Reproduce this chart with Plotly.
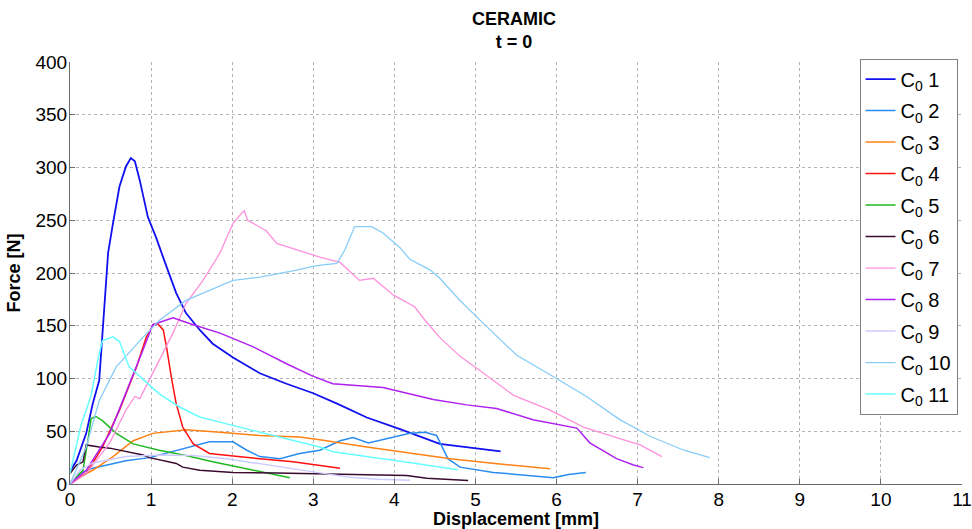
import plotly.graph_objects as go

# ---- data (displacement [mm], force [N]) ----
x1 = [0.0, 0.08, 0.2, 0.28, 0.36, 0.405, 0.47, 0.53, 0.61, 0.69, 0.75, 0.80, 0.86, 0.96, 1.06, 1.19, 1.31, 1.43, 1.60, 1.76, 2.01, 2.34, 2.67, 3.0, 3.3, 3.66, 4.07, 4.56, 4.97, 5.31]
y1 = [12, 22, 48, 76, 98, 149, 219, 247, 282, 301, 309, 306, 288, 253, 234, 206, 181, 162, 146, 133, 120, 105, 95, 86, 76, 63, 52, 38, 34, 31]

x2 = [0.0, 0.12, 0.28, 0.69, 0.98, 1.39, 1.72, 2.01, 2.18, 2.34, 2.59, 2.83, 3.08, 3.33, 3.49, 3.68, 3.90, 4.19, 4.38, 4.52, 4.66, 4.81, 5.22, 5.63, 5.96, 6.15, 6.36]
y2 = [1, 10, 15, 22, 25, 33, 40, 40, 32, 26, 24, 29, 32, 41, 44, 39, 43, 48, 49, 46, 24, 16, 11, 8, 6, 9, 11]

x3 = [0.0, 0.28, 0.53, 0.78, 1.02, 1.43, 1.85, 2.34, 2.83, 3.08, 3.66, 4.2, 4.69, 5.30, 5.92]
y3 = [2, 13, 26, 41, 48, 51.5, 49, 46, 44.5, 42, 35, 29, 24, 19, 14.5]

x4 = [0.0, 0.2, 0.40, 0.61, 0.82, 0.94, 1.02, 1.08, 1.15, 1.19, 1.25, 1.31, 1.39, 1.52, 1.72, 2.13, 2.75, 3.05, 3.33]
y4 = [0, 10, 35, 70, 111, 139, 150, 152, 146, 130, 101, 76, 54, 38, 29, 25.5, 21, 18, 15]

x5 = [0.0, 0.16, 0.22, 0.26, 0.32, 0.40, 0.57, 0.78, 1.10, 1.43, 1.76, 2.26, 2.71]
y5 = [0, 13, 41, 62, 64, 60, 48, 38, 32, 27, 21, 13, 6]

x6 = [0.0, 0.08, 0.16, 0.20, 0.36, 0.49, 0.90, 0.98, 1.31, 1.39, 1.60, 2.01, 2.55, 3.0, 3.5, 4.15, 4.40, 4.91]
y6 = [10, 18, 21, 37, 35, 34, 27.5, 25, 19.5, 16, 13, 11, 10.5, 10, 9, 8, 5.5, 3.2]

x7 = [0.0, 0.2, 0.49, 0.69, 0.80, 0.86, 1.06, 1.27, 1.43, 1.64, 1.85, 2.01, 2.11, 2.15, 2.19, 2.30, 2.42, 2.55, 2.67, 2.83, 3.08, 3.33, 3.57, 3.74, 3.99, 4.25, 4.38, 4.56, 4.81, 5.10, 5.47, 5.92, 6.33, 6.70, 7.03, 7.30]
y7 = [0, 10, 39, 70, 83, 81, 111, 143, 171, 193, 219, 247, 256, 259, 250, 245, 240, 228, 225, 221, 215, 210, 193, 195, 179, 168, 155, 139, 121, 105, 84, 70, 54, 45, 37, 26]

x8 = [0.0, 0.2, 0.49, 0.69, 0.90, 1.02, 1.10, 1.27, 1.52, 1.85, 2.26, 2.67, 3.0, 3.24, 3.86, 4.48, 4.89, 5.26, 5.71, 6.25, 6.41, 6.74, 6.95, 7.07]
y8 = [0, 13, 48, 86, 127, 151, 153, 157.5, 151, 143, 130, 114, 102, 95, 91.5, 80, 75, 71.5, 61, 53, 39, 24, 18, 15.5]

x9 = [0.0, 0.12, 0.28, 0.69, 1.10, 1.52, 1.93, 2.42, 3.0, 3.45, 3.8, 4.19]
y9 = [0, 13, 20, 26, 27.5, 27, 24, 18, 11.5, 6.5, 4.5, 3.5]

x10 = [0.0, 0.2, 0.36, 0.57, 0.90, 1.10, 1.43, 1.68, 2.01, 2.34, 2.75, 3.04, 3.29, 3.39, 3.51, 3.61, 3.72, 3.86, 4.07, 4.19, 4.44, 4.56, 4.81, 5.10, 5.51, 6.0, 6.37, 6.78, 7.16, 7.57, 7.89]
y10 = [0, 35, 79, 111, 139, 155, 174, 182, 193, 196, 202, 207, 209, 222, 244, 244, 244, 238, 224, 213, 203, 195, 174, 152, 122, 100, 83, 61, 45, 32, 25]

x11 = [0.0, 0.14, 0.20, 0.26, 0.35, 0.40, 0.53, 0.61, 0.73, 0.90, 1.10, 1.35, 1.60, 1.93, 2.34, 2.75, 3.08, 3.24, 3.86, 4.27, 4.78]
y11 = [10, 57, 70, 84, 120, 136, 139.5, 135, 111, 99, 85.5, 73, 63.5, 57, 49, 41, 35, 30.5, 24, 19.5, 13.5]

series_names = ["C<sub>0</sub> 1", "C<sub>0</sub> 2", "C<sub>0</sub> 3", "C<sub>0</sub> 4",
                "C<sub>0</sub> 5", "C<sub>0</sub> 6", "C<sub>0</sub> 7", "C<sub>0</sub> 8",
                "C<sub>0</sub> 9", "C<sub>0</sub> 10", "C<sub>0</sub> 11"]
series_x = [x1, x2, x3, x4, x5, x6, x7, x8, x9, x10, x11]
series_y = [y1, y2, y3, y4, y5, y6, y7, y8, y9, y10, y11]
colors = ["#1010f0", "#2a8cf0", "#ff8214", "#ff1010", "#20b820", "#3a0a30",
          "#ff90dd", "#b020f0", "#ccccff", "#88ccf8", "#66ffff"]
widths = [1.8, 1.5, 1.5, 1.5, 1.5, 1.5, 1.3, 1.5, 1.5, 1.3, 1.5]

x_ticks = list(range(0, 12))
y_ticks = list(range(0, 401, 50))

FONT = "Liberation Sans, Arial, sans-serif"

fig = go.Figure()
for i, (name, xs, ys, c, w) in enumerate(zip(series_names, series_x, series_y, colors, widths)):
    fig.add_trace(go.Scatter(x=xs, y=ys, mode="lines", name=name, legendgroup=f"g{i}",
                             line=dict(color=c, width=w)))

axis_common = dict(
    showgrid=True, gridcolor="#b4b4b4", griddash="dot", gridwidth=1,
    showline=True, linecolor="#6a6a6a", linewidth=1,
    ticks="inside", ticklen=5, tickcolor="#6a6a6a",
    zeroline=False, tickfont=dict(family=FONT, size=19, color="#000"),
    mirror=False, automargin=False,
)

fig.update_layout(
    width=972, height=529,
    margin=dict(l=70, r=10, t=62, b=45),
    paper_bgcolor="white", plot_bgcolor="white",
    font=dict(family=FONT, color="#000"),
    title=dict(text="<b>CERAMIC</b><br><b>t = 0</b>", x=514 / 972, xanchor="center",
               y=1 - 25 / 529, yanchor="top", font=dict(family=FONT, size=18, color="#000")),
    xaxis=dict(range=[0, 11], tickvals=x_ticks, ticklabelstandoff=-2,
               title=dict(text="<b>Displacement [mm]</b>", standoff=0,
                          font=dict(family=FONT, size=18)),
               **axis_common),
    yaxis=dict(range=[0, 400], tickvals=y_ticks, ticklabelstandoff=-2,
               title=dict(text="<b>Force [N]</b>", standoff=10,
                          font=dict(family=FONT, size=18)),
               **axis_common),
    legend=dict(x=0.995, xanchor="right", y=1.008, yanchor="top",
                bgcolor="white", bordercolor="#808080", borderwidth=1,
                font=dict(family=FONT, size=20, color="#000"),
                tracegroupgap=2.5, itemwidth=30, maxheight=600),
    showlegend=True,
)

fig.write_html("out.html", config={"displayModeBar": False},
               post_script="document.body.style.margin='0';document.body.style.overflow='hidden';")
